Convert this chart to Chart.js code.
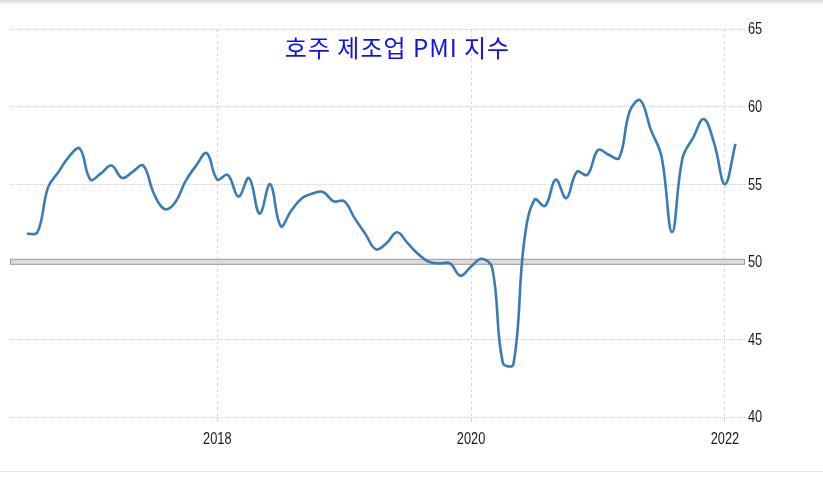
<!DOCTYPE html>
<html>
<head>
<meta charset="utf-8">
<script src="https://cdn.jsdelivr.net/npm/chart.js@4.4.1/dist/chart.umd.min.js"></script>
<style>
  html, body { margin: 0; padding: 0; background: #fff; }
  #wrap { position: relative; width: 823px; height: 482px; overflow: hidden; }
  #topShade { position: absolute; left: 0; top: 0; width: 823px; height: 5px;
    background: linear-gradient(#d8d8d8, #ffffff); }
  #bottomLine { position: absolute; left: 0; top: 471px; width: 823px; height: 1px; background: #e6e6e6; }
  #titulo { position: absolute; left: 0; width: 795px; top: 29px; text-align: center;
    font-family: "Noto Sans CJK KR", sans-serif; font-size: 24px; color: #1010f0; letter-spacing: 1px; }
  canvas { position: absolute; left: 0; top: 0; }
</style>
</head>
<body>
<div id="wrap">
  <canvas id="grafico" width="823" height="482"></canvas>
  <div id="topShade"></div>
  <div id="bottomLine"></div>
  <div id="titulo">호주 제조업 PMI 지수</div>
</div>
<script>
// --- datos ---
const inicio = { anio: 2016, mes: 7 }; // primer mes de la serie (jul 2016)
const pmi = [
  51.8, 51.9, 54.8, 55.8, 56.8, 57.3,                         // 2016 jul-dic
  55.3, 55.7, 56.2, 55.4, 55.8, 56.2, 54.4, 53.4, 53.8, 55.2, 56.2, 57.0, // 2017
  55.3, 55.6, 54.2, 55.4, 53.1, 55.0, 52.3, 53.3, 54.1, 54.4, 54.5, 53.9, // 2018
  53.9, 52.8, 51.8, 50.8, 51.2, 51.9, 51.2, 50.5, 50.0, 49.9, 49.9, 49.1, // 2019
  49.7, 50.2, 49.6, 43.5, 43.4, 51.2, 54.0, 53.6, 55.3, 54.1, 55.8, 55.6, // 2020
  57.2, 56.9, 56.7, 59.7, 60.4, 58.5, 56.8, 51.9, 56.7, 58.0, 59.2, 57.6, // 2021
  55.0, 57.6                                                   // 2022 ene-feb
];
const etiquetasAnio = [2018, 2020, 2022];
const ticksY = [40, 45, 50, 55, 60, 65];
const linea50 = 50;

// meses desde ene 2018 para cada punto
const puntos = pmi.map((v, i) => {
  const mesAbs = (inicio.anio - 2018) * 12 + (inicio.mes - 1) + i;
  return { x: mesAbs, y: v };
});

const fuenteEje = "16px 'Liberation Sans', Arial, sans-serif";

// banda gris en 50
const bandaPlugin = {
  id: "banda50",
  beforeDatasetsDraw(chart) {
    const { ctx, chartArea, scales } = chart;
    const y = scales.y.getPixelForValue(linea50);
    ctx.save();
    ctx.fillStyle = "#dcdcdc";
    ctx.strokeStyle = "#9a9a9a";
    ctx.lineWidth = 1;
    ctx.fillRect(chartArea.left, y - 2.5, chartArea.right - chartArea.left, 5);
    ctx.strokeRect(chartArea.left + 0.5, y - 2.5, chartArea.right - chartArea.left - 1, 5);
    ctx.restore();
  }
};

// etiquetas estrechas (texto condensado)
function textoEstrecho(ctx, txt, x, y, align) {
  const f = 0.8;
  ctx.save();
  ctx.translate(x, y);
  ctx.scale(f, 1);
  ctx.textAlign = align;
  ctx.fillText(txt, 0, 0);
  ctx.restore();
}

const etiquetasPlugin = {
  id: "etiquetas",
  afterDraw(chart) {
    const { ctx, chartArea, scales } = chart;
    ctx.save();
    ctx.font = fuenteEje;
    ctx.fillStyle = "#1a1a1a";
    ctx.textBaseline = "middle";
    ticksY.forEach(v => {
      textoEstrecho(ctx, String(v), chartArea.right + 3, scales.y.getPixelForValue(v) + 1, "left");
    });
    etiquetasAnio.forEach(a => {
      textoEstrecho(ctx, String(a), scales.x.getPixelForValue((a - 2018) * 12), chartArea.bottom + 23, "center");
    });
    ctx.restore();
  }
};

new Chart(document.getElementById("grafico"), {
  type: "line",
  data: {
    datasets: [{
      data: puntos,
      borderColor: "#3b7bb3",
      borderWidth: 2.6,
      pointRadius: 0,
      tension: 0.4,
      fill: false
    }]
  },
  options: {
    responsive: false,
    animation: false,
    layout: { padding: { left: 10, top: 29, right: 0, bottom: 0 } },
    plugins: { legend: { display: false }, tooltip: { enabled: false } },
    scales: {
      x: {
        type: "linear",
        min: -19.6,
        max: 49.9,
        afterBuildTicks(s) { s.ticks = etiquetasAnio.map(a => ({ value: (a - 2018) * 12 })); },
        afterFit(s) { s.height = 65; },
        ticks: { display: false },
        grid: { color: "#d8d8d8", lineWidth: 1, tickLength: 5, drawTicks: true },
        border: { display: false, dash: [3, 3] }
      },
      y: {
        position: "right",
        min: 40,
        max: 65,
        afterBuildTicks(s) { s.ticks = ticksY.map(v => ({ value: v })); },
        afterFit(s) { s.width = 78; },
        ticks: { display: false },
        grid: { color: "#cfcfcf", lineWidth: 1, drawTicks: false },
        border: { display: false, dash: [1, 1] }
      }
    }
  },
  plugins: [bandaPlugin, etiquetasPlugin]
});
</script>
</body>
</html>
